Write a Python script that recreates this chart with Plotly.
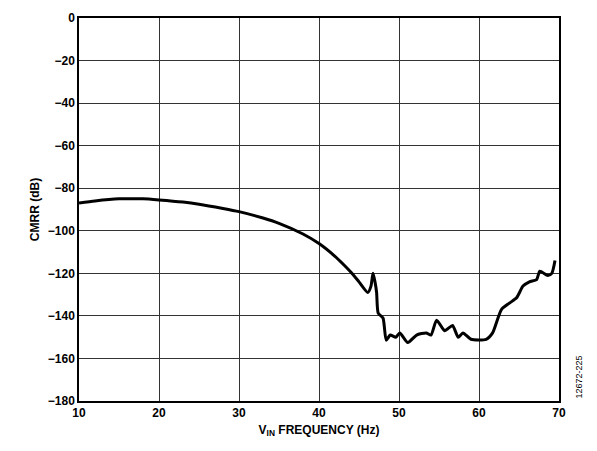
import plotly.graph_objects as go

freq = [10, 12, 15, 18, 20, 23, 25, 28, 30, 33, 35, 38, 40, 42, 43, 44, 45, 46.1, 46.5, 46.75, 47.0, 47.2, 47.4, 48.0, 48.4,
        48.9, 49.6, 50.1, 51.1, 52.2, 53.4, 54.0, 54.7, 55.7, 56.1, 56.7, 57.4, 58.0, 59.0, 60.9, 61.7,
        62.8, 63.8, 64.7, 65.5, 66.3, 67.2, 67.6, 68.6, 69.1, 69.5]
cmrr = [-87, -86, -85, -85, -85.5, -86.5, -87.5, -89.5, -91, -94, -96.5, -101.5, -106, -112, -115.6, -119.5, -124, -129, -126, -120, -124, -129, -138.7, -141, -151.4,
        -149, -150, -148, -152.5, -149, -148, -149, -142, -147, -146, -144.5, -150, -148, -151, -151, -148,
        -137, -134, -131.5, -126, -124, -123, -119, -121, -120, -114]

fig = go.Figure(go.Scatter(x=freq, y=cmrr, mode="lines", line=dict(color="black", width=3, shape="spline", smoothing=0.6),
                           showlegend=False))
ax = dict(showline=True, linecolor="black", linewidth=1.5, mirror=True, gridcolor="#333", gridwidth=1,
          ticks="", zeroline=False, automargin=False, tickfont=dict(size=12, color="black", weight="bold"))
fig.update_xaxes(range=[10, 70], dtick=10, title=dict(text="<b>V<sub>IN</sub> FREQUENCY (Hz)</b>", font=dict(size=12, color="black"), standoff=6), **ax)
fig.update_yaxes(range=[-180, 0], dtick=20, title=dict(text="<b>CMRR (dB)</b>", font=dict(size=12, color="black"), standoff=6),
                 tickformat="d", **ax)
fig.update_layout(width=597, height=451, plot_bgcolor="white", paper_bgcolor="white",
                  font=dict(family="Liberation Sans, Arial", color="black"),
                  margin=dict(l=71, r=46, t=10, b=58),
                  annotations=[dict(text="12672-225", x=1.025, y=0, xref="paper", yref="paper", textangle=-90,
                                    showarrow=False, xanchor="left", yanchor="bottom", font=dict(size=9, color="black"))])
fig.write_html("out.html")
